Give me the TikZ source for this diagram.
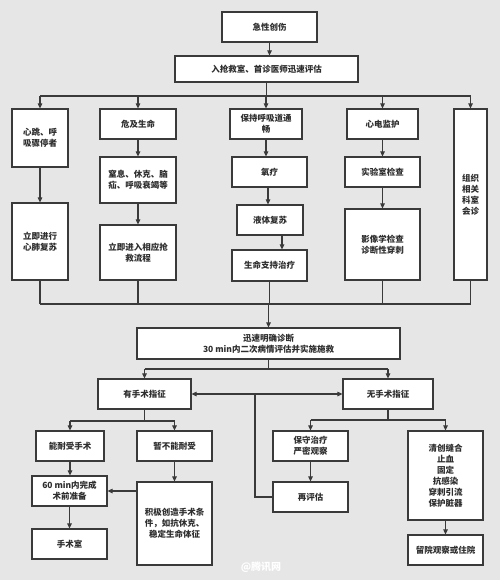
\documentclass[tikz,border=0pt]{standalone}
\usepackage{fontspec}
\setmainfont{Noto Sans CJK SC}
\usetikzlibrary{arrows.meta}
\definecolor{bg}{HTML}{E6E6E6}
\definecolor{ln}{HTML}{3A3A3A}
\definecolor{tx}{HTML}{2E2E2E}
\tikzset{
  box/.style={draw=ln, line width=1.2pt, fill=white, inner sep=1pt, align=center,
    font=\fontsize{8.5}{11}\selectfont\bfseries, text=tx},
  link/.style={draw=ln, line width=1.1pt},
  arr/.style={link, -{Triangle[length=5pt,width=4.5pt]}}
}
\newcommand\bx[6]{\node[box, minimum width={(#4-#2)*1pt}, minimum height={(#5-#3)*1pt}] (#1) at ({(#2+#4)/2},{(#3+#5)/2}) {#6};}
\begin{document}
\begin{tikzpicture}[x=1pt,y=-1pt]
\fill[bg] (0,0) rectangle (500,580);
\useasboundingbox (0,0) rectangle (500,580);
\bx{A}{222}{12}{317}{42}{急性创伤}
\bx{B}{175}{56}{358}{82}{入抢救室、首诊医师迅速评估}
\bx{c1a}{12}{109}{68}{167}{心跳、呼\\吸骤停者}
\bx{c1b}{12}{203}{68}{280}{立即进行\\心肺复苏}
\bx{c2a}{100}{109}{176}{139}{危及生命}
\bx{c2b}{100}{157}{176}{203}{窒息、休克、脑\\疝、呼吸衰竭等}
\bx{c2c}{100}{225}{176}{280}{立即进入相应抢\\救流程}
\bx{c3a}{230}{109}{302}{139}{保持呼吸道通\\畅}
\bx{c3b}{232}{157}{307}{187}{氧疗}
\bx{c3c}{237}{205}{303}{235}{液体复苏}
\bx{c3d}{232}{250}{307}{281}{生命支持治疗}
\bx{c4a}{347}{109}{418}{139}{心电监护}
\bx{c4b}{345}{157}{420}{187}{实验室检查}
\bx{c4c}{345}{209}{420}{280}{影像学检查\\诊断性穿刺}
\bx{c5}{454}{109}{487}{280}{组织\\相关\\科室\\会诊}
\bx{D}{137}{328}{400}{359}{迅速明确诊断\\30 min内二次病情评估并实施施救}
\bx{E1}{98}{379}{191}{409}{有手术指征}
\bx{E2}{343}{379}{433}{409}{无手术指征}
\bx{F1}{36}{431}{104}{461}{能耐受手术}
\bx{F2}{137}{431}{212}{461}{暂不能耐受}
\bx{G1}{32}{476}{107}{506}{60 min内完成\\术前准备}
\bx{G2}{32}{529}{107}{559}{手术室}
\bx{G3}{137}{482}{212}{565}{积极创造手术条\\件，如抗休克、\\稳定生命体征}
\bx{H1}{273}{431}{348}{461}{保守治疗\\严密观察}
\bx{H2}{273}{482}{348}{512}{再评估}
\bx{H3}{408}{431}{483}{520}{清创缝合\\止血\\固定\\抗感染\\穿刺引流\\保护脏器}
\bx{H4}{408}{535}{483}{565}{留院观察或住院}
% top
\draw[arr] (A.south) -- (A.south|-B.north);
\coordinate (bus1) at (266,96);
\draw[link] (B.south) -- (B.south|-bus1);
\draw[link] (c1a.north|-bus1) -- (c5.north|-bus1);
\foreach \n in {c1a,c2a,c3a,c4a,c5} \draw[arr] (\n.north|-bus1) -- (\n.north);
% columns
\draw[arr] (c1a) -- (c1b);
\draw[arr] (c2a) -- (c2b);
\draw[arr] (c2b) -- (c2c);
\draw[arr] (c3a.south) -- (c3a.south|-c3b.north);
\draw[arr] ([xshift=-1.5pt]c3b.south) -- ([xshift=-1.5pt]c3b.south|-c3c.north);
\draw[arr] ([xshift=12pt]c3c.south) -- ([xshift=12pt]c3c.south|-c3d.north);
\draw[arr] (c4a) -- (c4b);
\draw[arr] (c4b) -- (c4c);
% bottom bus
\coordinate (bus2) at (268,304);
\foreach \n in {c1b,c2c,c3d,c4c,c5} \draw[link] (\n.south) -- (\n.south|-bus2);
\draw[link] (c1b.south|-bus2) -- (c5.south|-bus2);
\draw[arr] (D.north|-bus2) -- (D.north);
% D to E
\coordinate (bus3) at (268,369);
\draw[link] (D.south) -- (D.south|-bus3);
\draw[link] (E1.north|-bus3) -- (E2.north|-bus3);
\draw[arr] (E1.north|-bus3) -- (E1.north);
\draw[arr] (E2.north|-bus3) -- (E2.north);
% cross link
\coordinate (mid) at (255,394);
\draw[arr] (mid) -- (E1.east);
\draw[arr] (mid) -- (E2.west);
\draw[link] (mid) |- (H2.west);
% left branch
\coordinate (bus4) at (0,421);
\draw[link] (E1.south) -- (E1.south|-bus4);
\draw[link] (F1.north|-bus4) -- (F2.north|-bus4);
\draw[arr] (F1.north|-bus4) -- (F1.north);
\draw[arr] (F2.north|-bus4) -- (F2.north);
\draw[arr] (F1.south) -- (F1.south|-G1.north);
\draw[arr] (G1) -- (G2);
\draw[arr] (F2) -- (G3);
\draw[arr] (G3.west|-G1.east) -- (G1.east);
% right branch
\coordinate (bus5) at (0,420);
\draw[link] (E2.south) -- (E2.south|-bus5);
\draw[link] (H1.north|-bus5) -- (H3.north|-bus5);
\draw[arr] (H1.north|-bus5) -- (H1.north);
\draw[arr] (H3.north|-bus5) -- (H3.north);
\draw[arr] (H1) -- (H2);
\draw[arr] (H3) -- (H4);
% watermark
\node[text=white, font=\fontsize{10}{12}\selectfont\bfseries, draw=none] (wm) at (261,567) {@腾讯网};
\end{tikzpicture}
\end{document}
